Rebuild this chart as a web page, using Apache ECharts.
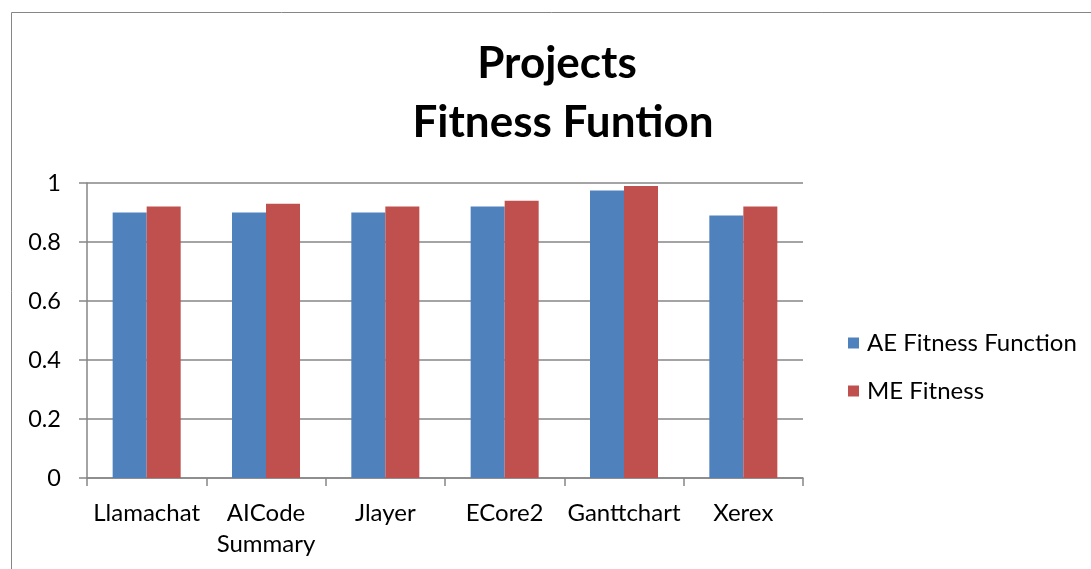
<!DOCTYPE html>
<html>
<head>
<meta charset="utf-8">
<script src="https://cdn.jsdelivr.net/npm/echarts@6/dist/echarts.min.js"></script>
<style>
html,body{margin:0;padding:0;background:#fff;}
#chart{width:1091px;height:569px;}
</style>
</head>
<body>
<div id="chart"></div>
<script>
const categories = ['Llamachat', 'AICode\nSummary', 'Jlayer', 'ECore2', 'Ganttchart', 'Xerex'];
const aeFitness = [0.90, 0.90, 0.90, 0.92, 0.975, 0.89];
const meFitness = [0.92, 0.93, 0.92, 0.94, 0.99, 0.92];
const seriesNames = ['AE Fitness Function', 'ME Fitness'];
const titleLines = ['Projects', 'Fitness Funtion'];

const FONT = 'Lato';
const titleStyle = {fontFamily: FONT, fontWeight: 'bold', fontSize: 44, lineHeight: 44, color: '#000'};
const chart = echarts.init(document.getElementById('chart'), null, {renderer: 'canvas'});
chart.setOption({
  animation: false,
  backgroundColor: '#fff',
  title: [
    {text: titleLines[0], left: 557, top: 42, textAlign: 'center', padding: 0, textStyle: titleStyle},
    {text: titleLines[1], left: 563, top: 101, textAlign: 'center', padding: 0, textStyle: titleStyle}
  ],
  graphic: [{
    type: 'rect', silent: true,
    shape: {x: 11.5, y: 12.5, width: 1200, height: 700},
    style: {fill: 'none', stroke: '#868686', lineWidth: 1}
  }],
  legend: {
    orient: 'vertical',
    left: 843, top: 326,
    icon: 'rect', itemWidth: 11, itemHeight: 11, itemGap: 24,
    textStyle: {fontFamily: FONT, fontSize: 24, color: '#000', padding: [0,0,0,3]},
    data: seriesNames
  },
  grid: {left: 87, right: 288, top: 183, bottom: 91, containLabel: false},
  xAxis: {
    type: 'category',
    data: categories,
    axisLine: {lineStyle: {color: '#868686', width: 1.5}},
    axisTick: {show: true, length: 8, alignWithLabel: false, lineStyle: {color: '#868686', width: 1.5}},
    axisLabel: {fontFamily: FONT, fontSize: 24, color: '#000', margin: 20, lineHeight: 31, interval: 0}
  },
  yAxis: {
    type: 'value', min: 0, max: 1, interval: 0.2,
    axisLine: {show: true, lineStyle: {color: '#868686', width: 1.5}},
    axisTick: {show: true, length: 8, lineStyle: {color: '#868686', width: 1.5}},
    splitLine: {lineStyle: {color: '#868686', width: 1.5}},
    axisLabel: {fontFamily: FONT, fontSize: 23.5, color: '#000', margin: 26,
      formatter: v => String(Math.round(v*10)/10)}
  },
  series: [
    {name: seriesNames[0], type: 'bar', data: aeFitness, barGap: '0%', barCategoryGap: '43%',
     itemStyle: {color: '#4F81BD'}},
    {name: seriesNames[1], type: 'bar', data: meFitness, barGap: '0%', barCategoryGap: '43%',
     itemStyle: {color: '#C0504D'}}
  ]
});
</script>
</body>
</html>
